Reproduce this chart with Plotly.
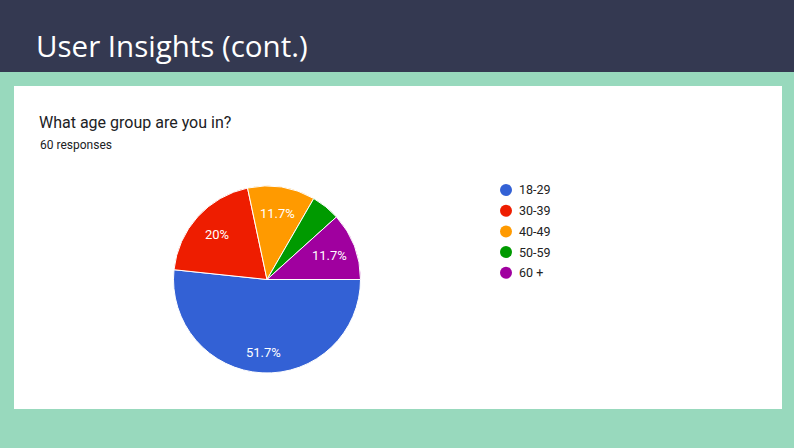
import math
import plotly.graph_objects as go

# ---- data ----
categories = ["18-29", "30-39", "40-49", "50-59", "60 +"]
counts = [31, 12, 7, 3, 7]
colors = ["#3361d5", "#ee1d00", "#ff9a00", "#009a00", "#a0009f"]
header_title = "User Insights (cont.)"
question = "What age group are you in?"
total_label = f"{sum(counts)} responses"

W, H = 794, 448


def px(x):
    return x / W


def py(y):
    return 1 - y / H


# pie geometry (pixels)
PIE_L, PIE_R, PIE_T, PIE_B = 173, 361, 186, 373
cx, cy0 = (PIE_L + PIE_R) / 2, (PIE_T + PIE_B) / 2
radius = (PIE_B - PIE_T) / 2

total = sum(counts)

fig = go.Figure()

fig.add_trace(go.Pie(
    labels=categories,
    values=counts,
    textinfo="none",
    marker=dict(colors=colors, line=dict(color="white", width=1)),
    sort=False,
    direction="clockwise",
    rotation=90,
    showlegend=False,
    hoverinfo="label+percent",
    domain=dict(x=[px(PIE_L), px(PIE_R)], y=[py(PIE_B), py(PIE_T)]),
))

shapes = [
    dict(type="rect", xref="paper", yref="paper", x0=0, x1=1, y0=0, y1=1,
         fillcolor="#98d9bd", line=dict(width=0), layer="below"),
    dict(type="rect", xref="paper", yref="paper", x0=0, x1=1, y0=py(72), y1=1,
         fillcolor="#343951", line=dict(width=0), layer="below"),
    dict(type="rect", xref="paper", yref="paper", x0=px(14), x1=px(782), y0=py(409), y1=py(86),
         fillcolor="white", line=dict(width=0), layer="below"),
]

annotations = [
    dict(text=header_title, xref="paper", yref="paper", x=px(34), y=py(46),
         xanchor="left", yanchor="middle", showarrow=False,
         font=dict(family="Open Sans, Nunito, sans-serif", size=29.5, color="white")),
    dict(text=question, xref="paper", yref="paper", x=px(37), y=py(122),
         xanchor="left", yanchor="middle", showarrow=False,
         font=dict(family="Roboto, Arial", size=16, color="#202124")),
    dict(text=total_label, xref="paper", yref="paper", x=px(38), y=py(145),
         xanchor="left", yanchor="middle", showarrow=False,
         font=dict(family="Roboto, Arial", size=12, color="#202124")),
]

# slice percentage labels, placed along each slice's mid angle
cum = 0
for c in counts:
    p = 100 * c / total
    mid = (cum + c / 2) / total * 360  # degrees clockwise from 3 o'clock
    cum += c
    if p < 8:
        continue
    s = f"{p:.1f}".rstrip("0").rstrip(".") + "%"
    a = math.radians(mid)
    k = 0.78 if p > 30 else 0.72
    lx = cx + k * radius * math.cos(a)
    ly = cy0 + k * radius * math.sin(a)
    annotations.append(dict(text=s, xref="paper", yref="paper", x=px(lx), y=py(ly),
                            xanchor="center", yanchor="middle", showarrow=False,
                            font=dict(family="Roboto, Arial", size=13, color="white")))

# legend
leg_x, leg_y0, leg_dy, r = 506, 190, 20.7, 6
for i, (cat, col) in enumerate(zip(categories, colors)):
    yy = leg_y0 + i * leg_dy
    shapes.append(dict(type="circle", xref="paper", yref="paper",
                       x0=px(leg_x - r), x1=px(leg_x + r), y0=py(yy + r), y1=py(yy - r),
                       fillcolor=col, line=dict(width=0)))
    annotations.append(dict(text=cat, xref="paper", yref="paper", x=px(517), y=py(yy),
                            xanchor="left", yanchor="middle", showarrow=False,
                            font=dict(family="Roboto, Arial", size=12.5, color="#222222")))

fig.update_layout(
    width=W, height=H,
    margin=dict(l=0, r=0, t=0, b=0),
    paper_bgcolor="#98d9bd",
    plot_bgcolor="#98d9bd",
    shapes=shapes,
    annotations=annotations,
)

fig.write_html("out.html")
